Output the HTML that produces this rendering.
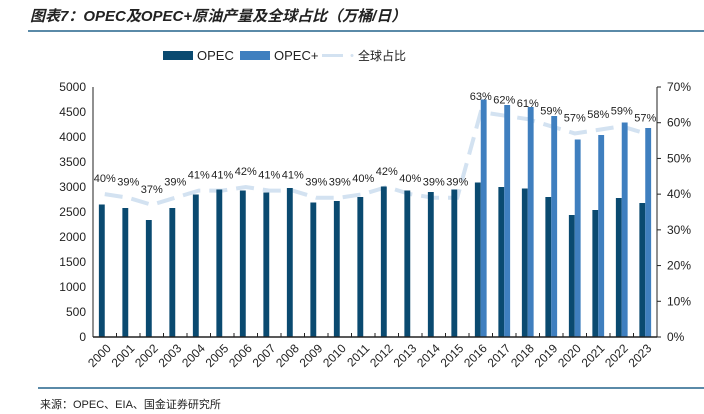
<!DOCTYPE html>
<html><head><meta charset="utf-8"><style>
body{margin:0;background:#fff;}
svg{display:block;font-family:"Liberation Sans","Noto Sans CJK SC",sans-serif;}
</style></head><body>
<svg id="c" width="704" height="414" xmlns="http://www.w3.org/2000/svg">
<text x="30" y="21" font-size="15" font-weight="bold" font-style="italic" fill="#222">图表7：OPEC及OPEC+原油产量及全球占比（万桶/日）</text>
<rect x="28" y="30" width="676" height="2" fill="#5a8aa8"/>
<g>
<rect x="163" y="51" width="30" height="9" fill="#0a4a70"/>
<text x="197" y="60" font-size="13" fill="#222">OPEC</text>
<rect x="240" y="51" width="30" height="9" fill="#3f7fbf"/>
<text x="274" y="60" font-size="13" fill="#222">OPEC+</text>
<line x1="322" y1="55.5" x2="343" y2="55.5" stroke="#d3e2f1" stroke-width="3"/>
<circle cx="352" cy="55.5" r="1.5" fill="#d3e2f1"/>
<text x="358" y="60" font-size="12" fill="#222">全球占比</text>
</g>
<g id="plot"></g>
<rect x="38" y="387" width="666" height="2" fill="#5a8aa8"/>
<text x="40" y="408" font-size="11" fill="#222">来源：OPEC、EIA、国金证券研究所</text>
</svg>
<script>
const years=["2000","2001","2002","2003","2004","2005","2006","2007","2008","2009","2010","2011","2012","2013","2014","2015","2016","2017","2018","2019","2020","2021","2022","2023"];
const opec=[2650,2580,2340,2580,2850,2950,2930,2890,2980,2690,2720,2800,3010,2930,2900,2950,3090,3000,2970,2800,2440,2540,2780,2680];
const opecPlus=[null,null,null,null,null,null,null,null,null,null,null,null,null,null,null,null,4750,4640,4600,4420,3950,4040,4290,4180];
const share=[40,39,37,39,41,41,42,41,41,39,39,40,42,40,39,39,63,62,61,59,57,58,59,57];
const leftTicks=[0,500,1000,1500,2000,2500,3000,3500,4000,4500,5000];
const rightTicks=[0,10,20,30,40,50,60,70];

const NS="http://www.w3.org/2000/svg";
const g=document.getElementById('plot');
const X0=93,X1=657,Y0=337,Y1=87;
const cw=(X1-X0)/years.length;
const yL=v=>Y0-(v/5000)*(Y0-Y1);
const yR=v=>Y0-(v/70)*(Y0-Y1);
const xC=i=>X0+cw*(i+0.5);
function el(t,a){const e=document.createElementNS(NS,t);for(const k in a)e.setAttribute(k,a[k]);g.appendChild(e);return e;}

leftTicks.forEach(v=>{
 const t=el('text',{x:86,y:yL(v)+4,'font-size':12,'text-anchor':'end',fill:'#222'});
 
 
 t.textContent=v;
});
rightTicks.forEach(v=>{
 const t=el('text',{x:667,y:yR(v)+4,'font-size':12,fill:'#222'});
 
 
 t.textContent=v+'%';
 const tk=el('line',{x1:X1,x2:X1+4,y1:yR(v),y2:yR(v),stroke:'#222','stroke-width':1});
 
 
});
const pts=share.map((v,i)=>xC(i)+','+yR(v)).join(' ');
const ln=el('polyline',{points:pts,fill:'none',stroke:'#d3e2f1','stroke-width':4,'stroke-dasharray':'18,9'});


const bw=cw/4;
years.forEach((y,i)=>{
 const s=X0+cw*i;
 const b=el('rect',{x:s+bw,y:yL(opec[i]),width:bw,height:Y0-yL(opec[i]),fill:'#0a4a70'});
 
 
 if(opecPlus[i]!=null){
  const b2=el('rect',{x:s+2*bw,y:yL(opecPlus[i]),width:bw,height:Y0-yL(opecPlus[i]),fill:'#3f7fbf'});
  
  
 }
 const tk=el('line',{x1:s+cw,x2:s+cw,y1:Y0,y2:Y0-4,stroke:'#222','stroke-width':1});
 
 
 const t=el('text',{x:0,y:0,'font-size':12,'text-anchor':'end',fill:'#222',transform:`translate(${xC(i)+7},${Y0+12}) rotate(-45)`});
 
 
 t.textContent=y;
});
share.forEach((v,i)=>{
 const t=el('text',{x:xC(i),y:yR(v)-12,'font-size':11,'text-anchor':'middle',fill:'#222'});
 
 
 t.textContent=v+'%';
});
const ax=el('line',{x1:X0,x2:X1,y1:Y0,y2:Y0,stroke:'#222','stroke-width':1.5});


const ay=el('line',{x1:X0,x2:X0,y1:Y1,y2:Y0,stroke:'#222','stroke-width':1});


const ar=el('line',{x1:X1,x2:X1,y1:Y1,y2:Y0,stroke:'#222','stroke-width':1});


</script>
</body></html>
